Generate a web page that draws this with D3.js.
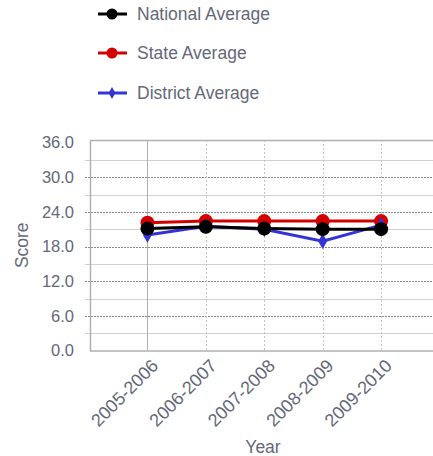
<!DOCTYPE html>
<html>
<head>
<meta charset="utf-8">
<script src="https://cdn.jsdelivr.net/npm/d3@7"></script>
<style>
  body { margin: 0; background: #fff; overflow: hidden; }
  svg { display: block; font-family: "Liberation Sans", Arial, sans-serif; }
</style>
</head>
<body>
<svg id="chart"></svg>
<script>
// Data
const years = ["2005-2006", "2006-2007", "2007-2008", "2008-2009", "2009-2010"];
const nationalAvg = [21.1, 21.4, 21.1, 21.0, 21.0];
const stateAvg = [22.1, 22.4, 22.4, 22.4, 22.4];
const districtAvg = [20.0, 21.5, 21.0, 18.9, 21.7];
const yTicks = [0, 6, 12, 18, 24, 30, 36];
const seriesNames = ["National Average", "State Average", "District Average"];

const width = 433, height = 456;
const textColor = "#646879";

const svg = d3.select("#chart").attr("width", width).attr("height", height);

const x = d3.scalePoint().domain(years).range([89, 439.5]).padding(1);
const y = d3.scaleLinear().domain([0, 36]).range([350.5, 142.5]);
const plotLeft = 90, plotRight = 440, plotTop = 140, plotBottom = 350.5;

// Minor grid (every 3) solid light gray
const grid = svg.append("g");
d3.range(3, 36, 6).forEach(v => {
    grid.append("line")
        .attr("x1", plotLeft - 5).attr("x2", plotRight)
        .attr("y1", Math.round(y(v)) + 0.5).attr("y2", Math.round(y(v)) + 0.5)
        .attr("stroke", "#d0d0d0").attr("stroke-width", 1);
});
// Major grid (every 6) dashed darker
yTicks.filter(v => v > 0 && v < 36).forEach(v => {
    grid.append("line")
        .attr("x1", plotLeft - 5).attr("x2", plotRight)
        .attr("y1", Math.round(y(v)) + 0.5).attr("y2", Math.round(y(v)) + 0.5)
        .attr("stroke", "#8a8a8a").attr("stroke-width", 1)
        .attr("stroke-dasharray", "2,1");
});
// Vertical category lines
years.forEach((d, i) => {
    grid.append("line")
        .attr("x1", Math.round(x(d)) + 0.5).attr("x2", Math.round(x(d)) + 0.5)
        .attr("y1", plotTop).attr("y2", plotBottom)
        .attr("stroke", i === 0 ? "#b0b0b0" : "#c4c4c4")
        .attr("stroke-width", 1)
        .attr("stroke-dasharray", i === 0 ? null : "2,2");
});

// Plot frame
grid.append("line").attr("x1", plotLeft + 0.5).attr("x2", plotLeft + 0.5).attr("y1", plotTop).attr("y2", plotBottom + 1)
    .attr("stroke", "#b0b0b0").attr("stroke-width", 1.5);
grid.append("line").attr("x1", plotLeft).attr("x2", plotRight).attr("y1", plotTop + 0.5).attr("y2", plotTop + 0.5)
    .attr("stroke", "#b0b0b0").attr("stroke-width", 1.5);
grid.append("line").attr("x1", plotLeft).attr("x2", plotRight).attr("y1", plotBottom + 0.5).attr("y2", plotBottom + 0.5)
    .attr("stroke", "#b0b0b0").attr("stroke-width", 1.5);

// Y tick labels
svg.append("g").selectAll("text")
    .data(yTicks)
    .enter()
    .append("text")
    .attr("x", 74)
    .attr("y", d => y(d))
    .attr("dy", "0.36em")
    .attr("text-anchor", "end")
    .attr("font-size", 16.5)
    .attr("fill", textColor)
    .text(d => d.toFixed(1));

// X tick labels, rotated
svg.append("g").selectAll("text")
    .data(years)
    .enter()
    .append("text")
    .attr("transform", d => `translate(${x(d) + 3},${358}) rotate(-45)`)
    .attr("text-anchor", "end")
    .attr("dy", "0.7em")
    .attr("font-size", 18)
    .attr("fill", textColor)
    .text(d => d);

// Axis titles
svg.append("text")
    .attr("transform", `translate(28,${(plotTop + plotBottom) / 2}) rotate(-90)`)
    .attr("text-anchor", "middle")
    .attr("font-size", 17.5)
    .attr("fill", textColor)
    .text("Score");

svg.append("text")
    .attr("x", 263).attr("y", 453)
    .attr("text-anchor", "middle")
    .attr("font-size", 17.5)
    .attr("fill", textColor)
    .text("Year");

// Series
const series = [
    { name: seriesNames[1], values: stateAvg, color: "#d40000", marker: "circle" },
    { name: seriesNames[2], values: districtAvg, color: "#3434d6", marker: "diamond" },
    { name: seriesNames[0], values: nationalAvg, color: "#000000", marker: "circle" }
];

const line = d3.line().x((d, i) => x(years[i])).y(d => y(d));

series.forEach(s => {
    const g = svg.append("g");
    g.append("path")
        .attr("d", line(s.values))
        .attr("fill", "none")
        .attr("stroke", s.color)
        .attr("stroke-width", 3);
    if (s.marker === "circle") {
        g.selectAll("circle").data(s.values).enter().append("circle")
            .attr("cx", (d, i) => x(years[i]))
            .attr("cy", d => y(d))
            .attr("r", 7)
            .attr("fill", s.color);
    } else {
        g.selectAll("path.m").data(s.values).enter().append("path")
            .attr("class", "m")
            .attr("d", d3.symbol(d3.symbolDiamond, 70))
            .attr("transform", (d, i) => `translate(${x(years[i])},${y(d)})`)
            .attr("fill", s.color);
    }
});

// Legend
const legendRows = [
    { name: seriesNames[0], color: "#000000", marker: "circle", y: 14 },
    { name: seriesNames[1], color: "#d40000", marker: "circle", y: 53 },
    { name: seriesNames[2], color: "#3434d6", marker: "diamond", y: 93 }
];
const legend = svg.append("g");
legendRows.forEach(r => {
    legend.append("line")
        .attr("x1", 98).attr("x2", 127)
        .attr("y1", r.y).attr("y2", r.y)
        .attr("stroke", r.color).attr("stroke-width", 3);
    if (r.marker === "circle") {
        legend.append("circle").attr("cx", 112).attr("cy", r.y).attr("r", 5.5).attr("fill", r.color);
    } else {
        legend.append("path").attr("d", d3.symbol(d3.symbolDiamond, 40))
            .attr("transform", `translate(112,${r.y})`).attr("fill", r.color);
    }
    legend.append("text")
        .attr("x", 137).attr("y", r.y)
        .attr("dy", "0.36em")
        .attr("font-size", 17.5)
        .attr("fill", textColor)
        .text(r.name);
});
</script>
</body>
</html>
